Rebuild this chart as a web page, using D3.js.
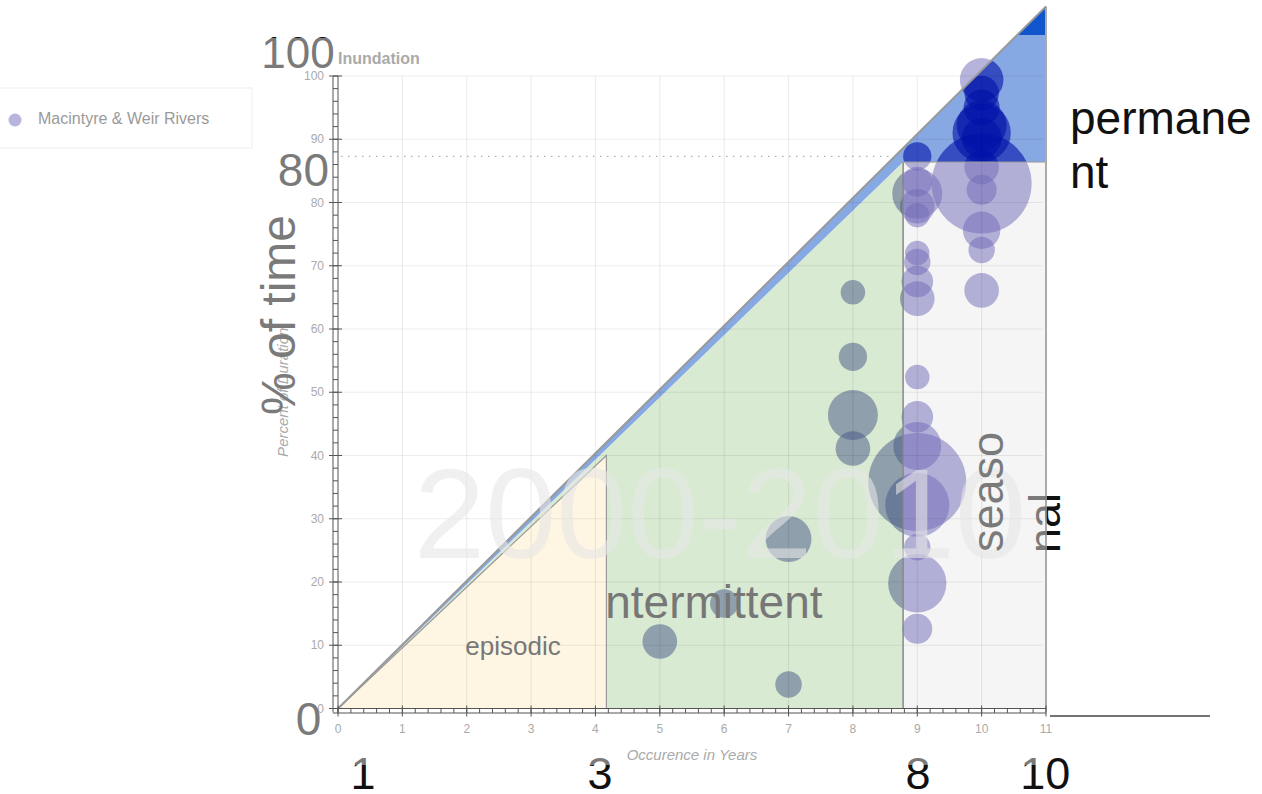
<!DOCTYPE html>
<html><head><meta charset="utf-8">
<script src="https://cdn.jsdelivr.net/npm/d3@7"></script>
<style>body{margin:0;background:#fff;} svg{display:block;font-family:"Liberation Sans",Arial,sans-serif;}</style>
</head><body><svg id="c" width="1262" height="794"></svg>
<script>
// ---- data ----
const xTickValues = [0,1,2,3,4,5,6,7,8,9,10,11];
const yTickValues = [0,10,20,30,40,50,60,70,80,90,100];
const seriesName = "Macintyre & Weir Rivers";
const chartTitle = "Inundation";
const xAxisTitle = "Occurence in Years";
const yAxisTitle = "Percent of Duration";
const watermark = "2000-2010";
const bubbleYears    = [5,6,7,7,8,8,8,8,9,9,9,9,9,9,9,9,9,9,9,9,9,9,9,9,9,10,10,10,10,10,10,10,10,10,10,10,10];
const bubblePercents = [10.6,16.6,26.8,3.8,65.8,55.6,46.4,41.1,87.3,83.3,81.4,79.4,78.0,72.0,70.6,67.5,64.8,52.4,46.1,41.5,35.8,32.2,25.5,19.8,12.6,99.4,97.3,95.0,92.2,91.0,90.2,85.6,83.0,82.0,75.6,72.5,66.1];
const bubbleSizes    = [12,8,21,7,6,8,25,12,8,9,25,12,6,6,7,10,12,6,10,23,96,41,7,34,9,19,12,13,25,34,16,12,100,9,14,7,12];
// zone boundaries (years / percent)
const episodicEdge = 4.17, episodicTop = 40;
const seasonalEdge = 8.78, xMax = 11;
const permanentLevel = 86.4, referenceLevel = 87.3;
const diagonalTop = 111, darkBlueLevel = 106.5;
// annotations [text, xValue, yValue]
const leftNotes = [["100",-0.05,101.3],["80",-0.14,82.6],["0",-0.26,-4.2]];
const bottomNotes = [["1",0.39],["3",4.07],["8",9.01],["10",10.99]];

// ---- setup ----
const svg = d3.select("#c");
const defs = svg.append("defs");
const x = d3.scaleLinear().domain([0,11]).range([338,1046]);
const y = d3.scaleLinear().domain([0,100]).range([708.5,76]);
const r = d3.scaleSqrt().domain([0,100]).range([0,50]);
const bubbles = bubbleYears.map((v,i)=>({x:v,y:bubblePercents[i],s:bubbleSizes[i]}));
const line = d3.line().x(d=>x(d[0])).y(d=>y(d[1]));

// legend
const lg = svg.append("g");
lg.append("rect").attr("x",-1).attr("y",88).attr("width",253).attr("height",60).attr("fill","#fff").attr("stroke","#eee");
lg.append("circle").attr("cx",15).attr("cy",120).attr("r",6.5).attr("fill","#b8b5dd");
lg.append("text").attr("x",38).attr("y",124).attr("font-size",16).attr("fill","#9a9a9a").text(seriesName);

// regions & bubbles
const greenPoly = [[0,0],[seasonalEdge,permanentLevel],[seasonalEdge,0]];
const bluePoly = [[0,0],[xMax,diagonalTop],[xMax,permanentLevel],[seasonalEdge,permanentLevel]];
const dark = (darkBlueLevel/diagonalTop)*xMax;
const darkPoly = [[dark,darkBlueLevel],[xMax,diagonalTop],[xMax,darkBlueLevel]];
const episodicPoly = [[0,0],[episodicEdge,episodicTop],[episodicEdge,0]];
defs.append("clipPath").attr("id","clipGreen").append("path").attr("d",line(greenPoly)+"Z");
defs.append("clipPath").attr("id","clipBlue").append("path").attr("d",line(bluePoly)+"Z");

svg.append("rect").attr("x",x(seasonalEdge)).attr("y",y(permanentLevel))
  .attr("width",x(xMax)-x(seasonalEdge)).attr("height",y(0)-y(permanentLevel)).attr("fill","#f5f5f5");

function drawBubbles(g, color, op){
  g.selectAll("circle").data(bubbles).join("circle")
   .attr("cx",d=>x(d.x)).attr("cy",d=>y(d.y)).attr("r",d=>r(d.s))
   .attr("fill",color).attr("fill-opacity",op);
}
drawBubbles(svg.append("g"),"#6f6ab8",0.5);
svg.append("path").attr("d",line(greenPoly)+"Z").attr("fill","#d9ead3");
drawBubbles(svg.append("g").attr("clip-path","url(#clipGreen)"),"#455685",0.5);
svg.append("path").attr("d",line(episodicPoly)+"Z").attr("fill","#fef6e2");
svg.append("path").attr("d",line(bluePoly)+"Z").attr("fill","#86a8e3");
drawBubbles(svg.append("g").attr("clip-path","url(#clipBlue)"),"#0011a9",0.6);
svg.append("path").attr("d",line(darkPoly)+"Z").attr("fill","#1155cc");

// grid
const grid = svg.append("g").attr("stroke","#000").attr("stroke-opacity",0.07).attr("stroke-width",1.2);
grid.selectAll("line.v").data(xTickValues.slice(1,-1)).join("line").attr("class","v")
  .attr("x1",d=>x(d)).attr("x2",d=>x(d)).attr("y1",y(100)).attr("y2",y(0));
grid.selectAll("line.h").data(yTickValues.slice(1)).join("line").attr("class","h")
  .attr("x1",x(0)).attr("x2",x(xMax)-3).attr("y1",d=>y(d)).attr("y2",d=>y(d));

// region outlines
svg.append("path").attr("d",line([[0,0],[episodicEdge,episodicTop],[episodicEdge,0]])).attr("fill","none").attr("stroke","#9a9a9a").attr("stroke-width",1.2);
svg.append("line").attr("x1",x(seasonalEdge)).attr("x2",x(seasonalEdge)).attr("y1",y(permanentLevel)).attr("y2",y(0)).attr("stroke","#888").attr("stroke-width",1.5);
svg.append("line").attr("x1",x(seasonalEdge)).attr("x2",x(xMax)).attr("y1",y(permanentLevel)).attr("y2",y(permanentLevel)).attr("stroke","#999").attr("stroke-width",1);
svg.append("line").attr("x1",x(xMax)).attr("x2",x(xMax)).attr("y1",y(diagonalTop)).attr("y2",y(0)+4).attr("stroke","#aaa").attr("stroke-width",2);
svg.append("path").attr("d",line([[0,0],[xMax,diagonalTop]])).attr("stroke","#999").attr("stroke-width",2).attr("fill","none");
svg.append("line").attr("x1",x(0)+3).attr("x2",x(referenceLevel/diagonalTop*xMax)).attr("y1",y(referenceLevel)).attr("y2",y(referenceLevel))
  .attr("stroke","#999").attr("stroke-dasharray","1.5,5.5");

// axes (ladder style)
const ax = svg.append("g").attr("stroke","#555").attr("stroke-width",1);
ax.append("line").attr("x1",333).attr("x2",333).attr("y1",y(100)).attr("y2",y(0)+4);
ax.append("line").attr("x1",x(0)).attr("x2",x(0)).attr("y1",y(100)).attr("y2",y(0)+4);
ax.selectAll("line.yr").data(d3.range(0,101,2)).join("line").attr("class","yr")
  .attr("x1",333).attr("x2",x(0)).attr("y1",d=>y(d)).attr("y2",d=>y(d));
ax.selectAll("line.ym").data(yTickValues).join("line").attr("class","ym")
  .attr("x1",329).attr("x2",x(0)+4).attr("y1",d=>y(d)).attr("y2",d=>y(d));
ax.append("line").attr("x1",333).attr("x2",x(xMax)).attr("y1",y(0)).attr("y2",y(0));
ax.append("line").attr("x1",333).attr("x2",x(xMax)).attr("y1",y(0)+4.5).attr("y2",y(0)+4.5);
ax.selectAll("line.xr").data(d3.range(0,55).map(i=>i*0.2)).join("line").attr("class","xr")
  .attr("x1",d=>x(d)).attr("x2",d=>x(d)).attr("y1",y(0)).attr("y2",y(0)+4.5);
ax.selectAll("line.xm").data(xTickValues).join("line").attr("class","xm")
  .attr("x1",d=>x(d)).attr("x2",d=>x(d)).attr("y1",y(0)-3).attr("y2",y(0)+8);
svg.append("line").attr("x1",x(xMax)+4).attr("x2",1210).attr("y1",y(0)+7.5).attr("y2",y(0)+7.5).attr("stroke","#444").attr("stroke-width",1.5);

// tick labels
svg.append("g").selectAll("text").data(yTickValues).join("text")
  .attr("x",324).attr("y",d=>y(d)+4).attr("text-anchor","end").attr("font-size",12).attr("fill","#aaa").text(d=>d);
svg.append("g").selectAll("text").data(xTickValues).join("text")
  .attr("x",d=>x(d)).attr("y",733).attr("text-anchor","middle").attr("font-size",12).attr("fill","#aaa").text(d=>d);
svg.append("text").attr("x",x(0)).attr("y",64).attr("font-size",16).attr("font-weight","bold").attr("fill","#aaa").text(chartTitle);
svg.append("text").attr("x",(x(0)+x(xMax))/2).attr("y",760).attr("text-anchor","middle").attr("font-size",15).attr("font-style","italic").attr("fill","#aaa").text(xAxisTitle);
svg.append("text").attr("transform",`translate(288,${(y(0)+y(100))/2}) rotate(-90)`).attr("text-anchor","middle").attr("font-size",15).attr("font-style","italic").attr("fill","#aaa").text(yAxisTitle);

// watermark
svg.append("text").attr("x",720).attr("y",558).attr("text-anchor","middle").attr("font-size",128)
  .attr("fill","#e6e6e6").attr("fill-opacity",0.6).text(watermark);

// zone labels
defs.append("clipPath").attr("id","clipInter").append("rect").attr("x",x(episodicEdge)).attr("y",0).attr("width",400).attr("height",794);
svg.append("text").attr("x",595).attr("y",618).attr("font-size",46).attr("fill","#777").attr("clip-path","url(#clipInter)").text("intermittent");
svg.append("text").attr("x",513).attr("y",655).attr("text-anchor","middle").attr("font-size",26).attr("fill","#777").text("episodic");

// overlay annotations: black outside chart frame, gray inside
const frame = {x0:0, y0:38, x1:1047, y1:765};
defs.append("clipPath").attr("id","washIn").append("rect")
  .attr("x",frame.x0).attr("y",frame.y0).attr("width",frame.x1-frame.x0).attr("height",frame.y1-frame.y0);
defs.append("clipPath").attr("id","washOut").append("path").attr("clip-rule","evenodd")
  .attr("d",`M-10,-10H1300V900H-10Z M${frame.x0},${frame.y0}H${frame.x1}V${frame.y1}H${frame.x0}Z`);
function washText(draw){
  draw(svg.append("g").attr("clip-path","url(#washOut)")).attr("fill","#111");
  draw(svg.append("g").attr("clip-path","url(#washIn)")).attr("fill","#7a7a7a");
}
washText(g=>g.selectAll("text").data(leftNotes).join("text")
  .attr("x",d=>x(d[1])).attr("y",d=>y(d[2])).attr("text-anchor","end").attr("font-size",d=>d[0]==="100"?44:46).text(d=>d[0]));
washText(g=>g.selectAll("text").data(bottomNotes).join("text")
  .attr("x",d=>x(d[1])).attr("y",789).attr("text-anchor","middle").attr("font-size",45).text(d=>d[0]));
washText(g=>g.append("text").attr("transform","translate(295,315) rotate(-90)").attr("text-anchor","middle").attr("font-size",48).text("% of time"));
washText(g=>g.append("text").attr("transform","translate(1003,492) rotate(-90)").attr("text-anchor","middle").attr("font-size",45).text("seaso"));
washText(g=>g.append("text").attr("transform","translate(1060,553) rotate(-90)").attr("text-anchor","start").attr("font-size",45).text("nal"));
washText(g=>g.append("text").attr("x",1070).attr("y",134).attr("font-size",46).text("permane"));
washText(g=>g.append("text").attr("x",1070).attr("y",188).attr("font-size",46).text("nt"));
</script></body></html>
